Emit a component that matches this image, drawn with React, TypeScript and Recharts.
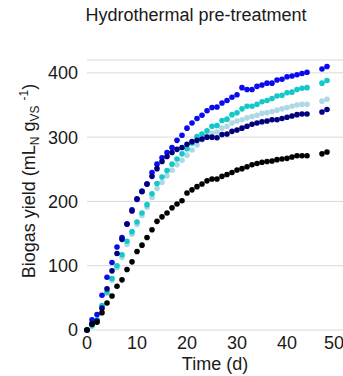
import React from 'react';
import { ScatterChart, Scatter, XAxis, YAxis, CartesianGrid } from 'recharts';

// sampling days (daily to day 44, then two late readings)
const days = [0, 1, 2, 3, 4, 5, 6, 7, 8, 9, 10, 11, 12, 13, 14, 15, 16, 17, 18, 19, 20, 21, 22, 23, 24, 25, 26, 27, 28, 29, 30, 31, 32, 33, 34, 35, 36, 37, 38, 39, 40, 41, 42, 43, 44, 47, 48];

const blackSeries = [0, 9, 12, 27, 42, 53, 68, 78, 94, 106, 122, 132, 144, 156, 169, 176, 182, 190, 196, 201, 213, 218, 223, 227, 232, 235, 235, 239, 242, 245, 249, 251, 254, 257, 259, 261, 262, 263, 265, 266, 267, 269, 271, 271, 271, 274, 277];
const blueSeries = [0, 16, 24, 54, 82, 105, 129, 144, 165, 187, 203, 216, 227, 245, 258, 268, 276, 284, 295, 303, 314, 322, 329, 334, 341, 346, 347, 353, 357, 362, 366, 377, 374, 374, 379, 381, 384, 384, 389, 390, 394, 395, 397, 399, 401, 406, 410];
const navySeries = [0, 10, 14, 34, 64, 92, 119, 141, 165, 185, 204, 215, 227, 239, 251, 262, 270, 276, 281, 284, 289, 293, 295, 297, 300, 300, 299, 304, 305, 309, 311, 314, 317, 320, 322, 324, 325, 327, 327, 329, 331, 333, 335, 336, 336, 339, 343];
const cyanSeries = [0, 7, 16, 38, 59, 80, 100, 117, 138, 153, 168, 182, 195, 212, 228, 238, 248, 258, 266, 274, 282, 291, 301, 305, 310, 317, 318, 326, 328, 335, 338, 344, 348, 348, 351, 355, 357, 360, 364, 365, 369, 370, 374, 376, 377, 384, 388];
const lightBlueSeries = [0, 6, 14, 36, 57, 77, 97, 113, 133, 149, 164, 178, 191, 206, 220, 230, 240, 249, 257, 264, 272, 280, 288, 296, 302, 306, 308, 314, 317, 322, 325, 327, 330, 332, 334, 337, 338, 340, 342, 344, 346, 348, 350, 351, 351, 356, 359];

const yTicks = [0, 100, 200, 300, 400];
const xTicks = [0, 10, 20, 30, 40, 50];

const FONT = '"Liberation Sans", Arial, sans-serif';
const TXT = '#1a1a1a';

const toPoints = (vals: number[]) => days.map((d, i) => ({ x: d, y: vals[i] }));

const series = [
  { name: 'lightblue', color: '#add8e6', values: lightBlueSeries },
  { name: 'cyan', color: '#14c8c8', values: cyanSeries },
  { name: 'blue', color: '#0a0af0', values: blueSeries },
  { name: 'navy', color: '#00007f', values: navySeries },
  { name: 'black', color: '#000000', values: blackSeries },
];

const dot = (color: string) => (props: any) => (
  <circle cx={props.cx} cy={props.cy} r={2.8} fill={color} />
);

export default function App() {
  return (
    <div style={{ position: 'absolute', left: 0, top: 0, width: 343, height: 376, background: '#fff' }}>
      <ScatterChart width={343} height={376} margin={{ top: 60, right: 0, bottom: 6, left: 0 }}>
        <CartesianGrid vertical={false} stroke="#d9d9d9" />
        <XAxis
          type="number"
          dataKey="x"
          domain={[0, 51.2]}
          ticks={xTicks}
          axisLine={false}
          tickLine={false}
          tickSize={4}
          tickMargin={2}
          height={40}
          tick={{ fontSize: 18, fill: TXT, fontFamily: FONT }}
          label={{ value: 'Time (d)', position: 'insideBottom', offset: 0, fontSize: 18, fill: TXT, fontFamily: FONT }}
        />
        <YAxis
          type="number"
          dataKey="y"
          domain={[0, 420]}
          ticks={yTicks}
          axisLine={false}
          tickLine={false}
          tickSize={5}
          tickMargin={4}
          width={87}
          tick={{ fontSize: 18, fill: TXT, fontFamily: FONT }}
        />
        {series.map(s => (
          <Scatter key={s.name} name={s.name} data={toPoints(s.values)} fill={s.color} shape={dot(s.color)} isAnimationActive={false} />
        ))}
      </ScatterChart>
      <svg width={343} height={376} style={{ position: 'absolute', left: 0, top: 0, pointerEvents: 'none' }}>
        <text x={196} y={21} textAnchor="middle" fontSize={18} fill={TXT} fontFamily={FONT}>
          Hydrothermal pre-treatment
        </text>
        <text x={35} y={181} transform="rotate(-90, 35, 181)" textAnchor="middle" fontSize={18} fill={TXT} fontFamily={FONT}>
          Biogas yield (mL
          <tspan fontSize={12} dy={4}>N</tspan>
          <tspan dy={-4}> g</tspan>
          <tspan fontSize={12} dy={4}>VS</tspan>
          <tspan dy={-4}> </tspan>
          <tspan fontSize={12} dy={-7}>-1</tspan>
          <tspan dy={7}>)</tspan>
        </text>
      </svg>
    </div>
  );
}
